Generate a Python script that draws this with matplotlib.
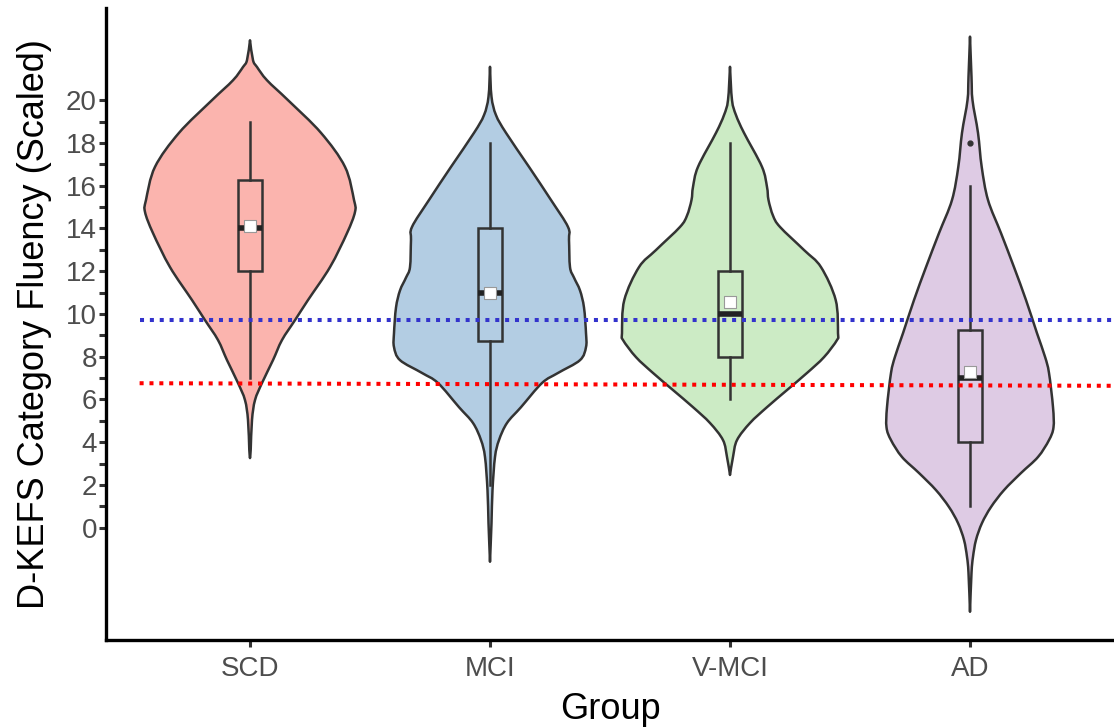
import numpy as np
import matplotlib.pyplot as plt
from matplotlib.patches import Rectangle, PathPatch
from matplotlib.path import Path

plt.rcParams['font.family'] = ['Liberation Sans', 'DejaVu Sans']

groups = ['SCD', 'MCI', 'V-MCI', 'AD']
colors = ['#FBB4AE', '#B3CDE3', '#CCEBC5', '#DECBE4']

# violin outlines: score level and half width (px, 240 px per group)
scd_y = [22.80, 21.87, 21.55, 20.93, 20.0, 18.47, 16.88, 15.33, 14.77, 13.78, 12.19, 10.65, 9.71, 8.78, 7.84, 6.77, 5.97, 5.04, 3.64, 3.26]
scd_w = [0, 3, 7, 17, 38, 71, 95, 104, 105, 97, 80, 58, 45, 32, 23, 12, 5, 2, 0.7, 0]
mci_y = [21.56, 20.16, 19.3, 18.47, 16.88, 15.33, 14.07, 13.46, 12.19, 11.7, 11.1, 10.3, 9.1, 8.45, 7.84, 7.24, 6.77, 5.64, 4.9, 4.1, 3.31, 1.76, 0.22, -1.59]
mci_w = [0, 1.5, 6, 16, 39, 61, 78, 79, 80, 84, 90, 94, 96, 96, 90, 68, 52, 31, 17, 9, 5, 2.5, 1.5, 0]
vmci_y = [21.56, 20.0, 19.3, 18.47, 16.88, 15.94, 15.33, 14.6, 14.07, 12.99, 12.19, 10.65, 9.1, 8.78, 7.98, 7.24, 6.44, 5.64, 4.9, 4.1, 3.31, 2.47]
vmci_w = [0, 2, 6, 14, 32, 37, 38.5, 43, 50, 74, 91, 105.7, 108, 107, 94, 77, 57, 37, 20, 7, 3, 0]
ad_y = [22.97, 21.09, 20.0, 18.47, 16.88, 15.33, 13.78, 12.19, 10.65, 9.1, 8.0, 7.24, 5.64, 4.7, 4.1, 3.31, 2.56, 1.76, 0.97, 0.22, -0.57, -1.36, -2.11, -3.93]
ad_w = [0, 1.5, 2.5, 8, 11.7, 18, 31, 44, 56, 67, 75, 79, 83, 83.5, 79, 68, 51, 34, 21, 12, 6, 3, 1.5, 0]

violin_y = [scd_y, mci_y, vmci_y, ad_y]
violin_w = [scd_w, mci_w, vmci_w, ad_w]

# box plot stats
q1 = [12, 8.75, 8, 4]
med = [14, 11, 10, 7]
q3 = [16.25, 14, 12, 9.25]
whisk_lo = [7, 2, 6, 1]
whisk_hi = [19, 18, 18, 16]
means = [14.1, 11.0, 10.55, 7.3]
outliers = [[], [], [], [18]]

# reference lines (left end, right end)
line_x = [0.54, 4.6]
blue_y = [9.74, 9.74]
red_y = [6.76, 6.64]

edge = '#333333'


def smooth_side(pts):
    # cubic bezier through the points (catmull-rom tangents)
    n = len(pts)
    verts = [pts[0]]
    codes = []
    for k in range(n - 1):
        p0 = pts[max(k - 1, 0)]
        p1 = pts[k]
        p2 = pts[k + 1]
        p3 = pts[min(k + 2, n - 1)]
        verts += [p1 + (p2 - p0) / 6, p2 - (p3 - p1) / 6, p2]
        codes += [Path.CURVE4] * 3
    return verts, codes


def violin_path(c, y, hw):
    left = np.column_stack([c - hw, y])
    right = np.column_stack([c + hw, y])[::-1]
    v1, c1 = smooth_side(left)
    v2, c2 = smooth_side(right)
    verts = v1 + v2[1:] + [v1[0]]
    codes = [Path.MOVETO] + c1 + c2 + [Path.CLOSEPOLY]
    return Path(np.array(verts), codes)


fig = plt.figure(figsize=(11.14, 7.27), dpi=100)
ax = fig.add_axes([106/1114, 87/727, 1 - 106/1114, (640-8)/727])

for i, g in enumerate(groups):
    c = i + 1
    y = np.array(violin_y[i])
    hw = np.array(violin_w[i]) / 240.0
    ax.add_patch(PathPatch(violin_path(c, y, hw), facecolor=colors[i], edgecolor=edge,
                           lw=1.8, joinstyle='round', zorder=1))
    ax.add_patch(Rectangle((c - 0.05, q1[i]), 0.1, q3[i] - q1[i], fill=False,
                           edgecolor=edge, lw=1.8, zorder=2))
    ax.plot([c, c], [whisk_lo[i], q1[i]], color=edge, lw=1.8, zorder=2)
    ax.plot([c, c], [q3[i], whisk_hi[i]], color=edge, lw=1.8, zorder=2)
    ax.plot([c - 0.05, c + 0.05], [med[i], med[i]], color='#222222', lw=4, solid_capstyle='butt', zorder=3)
    for o in outliers[i]:
        ax.plot([c], [o], 'o', color='#333333', ms=3.5, zorder=3)

ax.scatter(range(1, 5), means, marker='s', s=70, facecolor='white', edgecolor='#999999', lw=0.8, zorder=4)

ax.plot(line_x, blue_y, color='#3333CC', lw=2.9, linestyle=(0, (1, 1.45)), dash_capstyle='butt', zorder=5)
ax.plot(line_x, red_y, color='#FF0000', lw=2.9, linestyle=(0, (1, 1.45)), dash_capstyle='butt', zorder=5)

ax.set_xlim(0.4, 4.6)
ax.set_ylim(-5.25, 24.31)
ax.set_xticks(range(1, 5))
ax.set_xticklabels(groups)
ax.set_yticks(range(0, 21))
ax.set_yticklabels([str(v) if v % 2 == 0 else '' for v in range(0, 21)])

for s in ['top', 'right']:
    ax.spines[s].set_visible(False)
for s in ['left', 'bottom']:
    ax.spines[s].set_linewidth(2.4)
    ax.spines[s].set_color('black')

ax.tick_params(axis='y', length=5, width=2.2, color='#333333', pad=1.5, labelsize=20, labelcolor='#4D4D4D')
ax.tick_params(axis='x', length=5, width=2.2, color='#333333', pad=6.5, labelsize=20, labelcolor='#4D4D4D')

ax.set_xlabel('Group', fontsize=26, labelpad=7)
ax.set_ylabel('D-KEFS Category Fluency (Scaled)', fontsize=26, labelpad=10)

plt.savefig('out.png', dpi=100)
